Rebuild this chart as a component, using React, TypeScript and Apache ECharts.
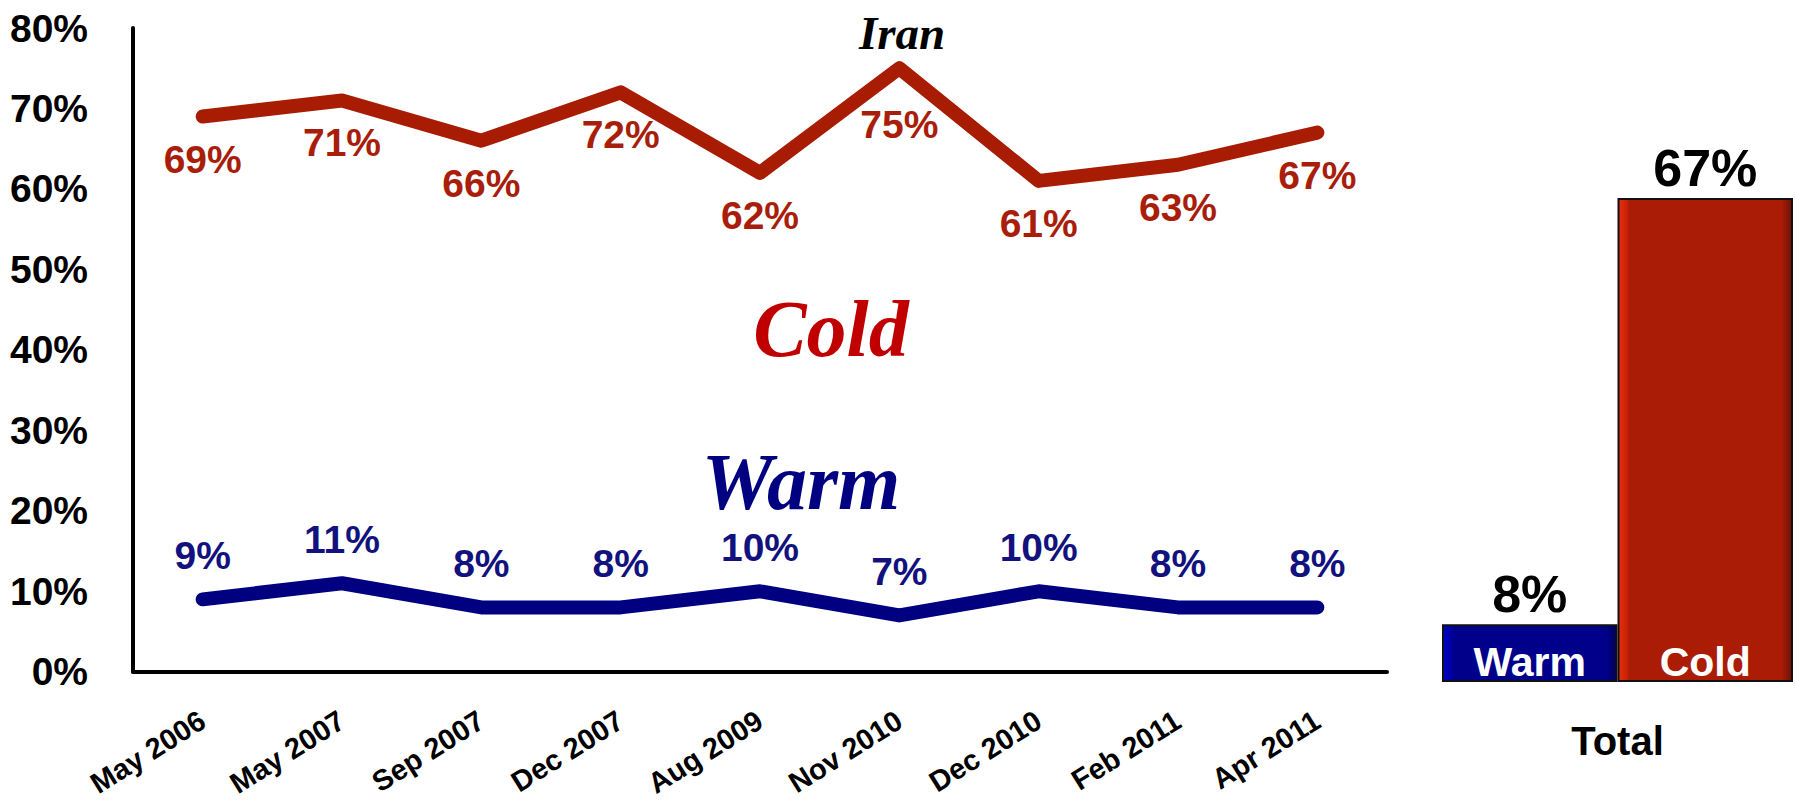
import React, { useEffect, useRef } from "react";
import * as echarts from "echarts";

const categories = [
  "May 2006",
  "May 2007",
  "Sep 2007",
  "Dec 2007",
  "Aug 2009",
  "Nov 2010",
  "Dec 2010",
  "Feb 2011",
  "Apr 2011",
];
const coldValues = [69, 71, 66, 72, 62, 75, 61, 63, 67];
const warmValues = [9, 11, 8, 8, 10, 7, 10, 8, 8];
const totalCategories = ["Warm", "Cold"];
const totalValues = [8, 67];

const RED = "#a81c04";
const NAVY = "#000080";
const SANS = "'Liberation Sans', Arial, sans-serif";
const SERIF = "'Liberation Serif', 'Times New Roman', serif";

export default function App() {
  const ref = useRef<HTMLDivElement>(null);

  useEffect(() => {
    if (!ref.current) return;
    const chart = echarts.init(ref.current, null, { renderer: "svg" });

    const barColors = [
      new echarts.graphic.LinearGradient(0, 0, 1, 0, [
        { offset: 0, color: "#0000cc" },
        { offset: 0.055, color: "#00009c" },
        { offset: 0.06, color: "#00008a" },
        { offset: 0.94, color: "#00008a" },
        { offset: 1, color: "#000058" },
      ]),
      new echarts.graphic.LinearGradient(0, 0, 1, 0, [
        { offset: 0, color: "#ec2c0c" },
        { offset: 0.055, color: "#c02208" },
        { offset: 0.06, color: "#aa1c05" },
        { offset: 0.94, color: "#aa1c05" },
        { offset: 1, color: "#6a1206" },
      ]),
    ];

    chart.setOption({
      animation: false,
      backgroundColor: "#ffffff",
      grid: [
        { left: 133, right: 409, top: 28, bottom: 120, containLabel: false },
        { left: 1442, width: 351, top: 104, bottom: 118, containLabel: false },
      ],
      xAxis: [
        {
          gridIndex: 0,
          type: "category",
          data: categories,
          boundaryGap: true,
          axisLine: { show: true, lineStyle: { color: "#000", width: 4 } },
          axisTick: { show: false },
          axisLabel: {
            rotate: 32,
            margin: 46,
            fontFamily: SANS,
            fontWeight: "bold",
            fontSize: 29,
            color: "#000",
            interval: 0,
          },
          splitLine: { show: false },
        },
        {
          gridIndex: 1,
          type: "category",
          data: totalCategories,
          boundaryGap: true,
          axisLine: { show: false },
          axisTick: { show: false },
          axisLabel: {
            inside: true,
            margin: 0,
            fontFamily: SANS,
            fontWeight: "bold",
            fontSize: 41,
            color: "#fff",
            interval: 0,
          },
          name: "Total",
          nameLocation: "middle",
          nameGap: 39,
          nameTextStyle: {
            fontFamily: SANS,
            fontWeight: "bold",
            fontSize: 40,
            color: "#000",
          },
          z: 10,
        },
      ],
      yAxis: [
        {
          gridIndex: 0,
          type: "value",
          min: 0,
          max: 80,
          interval: 10,
          axisLine: { show: true, lineStyle: { color: "#000", width: 4 } },
          axisTick: { show: false },
          splitLine: { show: false },
          axisLabel: {
            formatter: "{value}%",
            margin: 45,
            fontFamily: SANS,
            fontWeight: "bold",
            fontSize: 39,
            color: "#000",
          },
        },
        {
          gridIndex: 1,
          type: "value",
          min: 0,
          max: 80,
          show: false,
        },
      ],
      series: [
        {
          name: "Cold",
          type: "line",
          xAxisIndex: 0,
          yAxisIndex: 0,
          data: coldValues.map((v) =>
            v === Math.max(...coldValues)
              ? { value: v, label: { distance: 31 } }
              : v
          ),
          symbol: "circle",
          symbolSize: 12,
          itemStyle: { color: RED },
          lineStyle: { color: RED, width: 14, cap: "round", join: "round" },
          label: {
            show: true,
            position: "bottom",
            distance: 17,
            formatter: "{c}%",
            fontFamily: SANS,
            fontWeight: "bold",
            fontSize: 39,
            color: "#a81e0a",
          },
        },
        {
          name: "Warm",
          type: "line",
          xAxisIndex: 0,
          yAxisIndex: 0,
          data: warmValues,
          symbol: "circle",
          symbolSize: 12,
          itemStyle: { color: NAVY },
          lineStyle: { color: NAVY, width: 14, cap: "round", join: "round" },
          label: {
            show: true,
            position: "top",
            distance: 18,
            formatter: "{c}%",
            fontFamily: SANS,
            fontWeight: "bold",
            fontSize: 39,
            color: "#12127e",
          },
        },
        {
          name: "Total",
          type: "bar",
          xAxisIndex: 1,
          yAxisIndex: 1,
          barWidth: "100%",
          data: totalValues.map((v, i) => ({
            value: v,
            itemStyle: {
              color: barColors[i],
              borderColor: "#111",
              borderWidth: 2,
            },
          })),
          label: {
            show: true,
            position: "top",
            distance: 4,
            formatter: "{c}%",
            fontFamily: SANS,
            fontWeight: "bold",
            fontSize: 52,
            color: "#000",
          },
        },
      ],
      graphic: [
        {
          type: "text",
          x: 902,
          y: 33,
          style: {
            text: "Iran",
            font: `italic bold 47px ${SERIF}`,
            fill: "#000",
            align: "center",
            verticalAlign: "middle",
          },
        },
        {
          type: "text",
          x: 831,
          y: 329,
          style: {
            text: "Cold",
            font: `italic bold 80px ${SERIF}`,
            fill: "#c00000",
            align: "center",
            verticalAlign: "middle",
          },
        },
        {
          type: "text",
          x: 801,
          y: 482,
          style: {
            text: "Warm",
            font: `italic bold 80px ${SERIF}`,
            fill: "#000080",
            align: "center",
            verticalAlign: "middle",
          },
        },
      ],
    });

    return () => chart.dispose();
  }, []);

  return (
    <div
      ref={ref}
      style={{ position: "fixed", left: 0, top: 0, width: 1796, height: 800 }}
    />
  );
}
